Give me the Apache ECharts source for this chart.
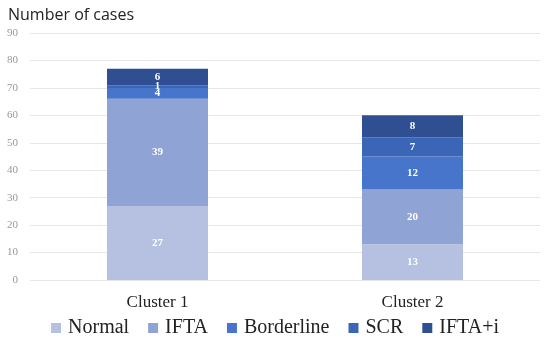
<!DOCTYPE html>
<html><head><meta charset="utf-8">
<script src="https://cdn.jsdelivr.net/npm/echarts@6/dist/echarts.min.js"></script>
<style>html,body{margin:0;padding:0;background:#fff}#c{width:550px;height:343px}</style>
</head><body><div id="c"></div>
<script>
var categories = ['Cluster 1', 'Cluster 2'];
var seriesNames = ['Normal', 'IFTA', 'Borderline', 'SCR', 'IFTA+i'];
var normal = [27, 13];
var ifta = [39, 20];
var borderline = [4, 12];
var scr = [1, 7];
var iftaI = [6, 8];
var yTicks = [0, 10, 20, 30, 40, 50, 60, 70, 80, 90];
var colors = ['#b6c1e1', '#8fa3d4', '#4675cb', '#3b65b6', '#2f4f92'];
var values = [normal, ifta, borderline, scr, iftaI];

var chart = echarts.init(document.getElementById('c'));
chart.setOption({
  animation: false,
  title: {text: 'Number of cases', left: 3, top: 2,
    textStyle: {fontFamily: 'Open Sans', fontWeight: 'normal', fontSize: 16, color: '#222'}},
  grid: {left: 30, right: 10, top: 33, bottom: 63},
  legend: {top: 318, left: 'center', padding: 0, itemWidth: 10, itemHeight: 10, itemGap: 19,
    icon: 'rect',
    textStyle: {fontFamily: 'Liberation Serif', fontSize: 20, color: '#222', padding: [0, 0, 0, 2]},
    data: seriesNames},
  xAxis: {type: 'category', data: categories,
    axisLine: {show: false}, axisTick: {show: false},
    axisLabel: {fontFamily: 'Liberation Serif', fontSize: 17, color: '#222', margin: 14}},
  yAxis: {type: 'value', min: 0, max: 90, interval: 10,
    axisLine: {show: false}, axisTick: {show: false},
    splitLine: {lineStyle: {color: '#e6e6e6'}},
    axisLabel: {fontFamily: 'Liberation Serif', fontSize: 11, color: '#999', margin: 12,
      formatter: function (v) { return yTicks.indexOf(v) >= 0 ? String(v) : ''; }}},
  series: seriesNames.map(function (n, i) {
    return {name: n, type: 'bar', stack: 'a', barWidth: 101, data: values[i],
      itemStyle: {color: colors[i]},
      label: {show: true, position: 'inside', color: '#fff', fontFamily: 'Liberation Serif',
        fontWeight: 'bold', fontSize: 11}};
  })
});
</script></body></html>
